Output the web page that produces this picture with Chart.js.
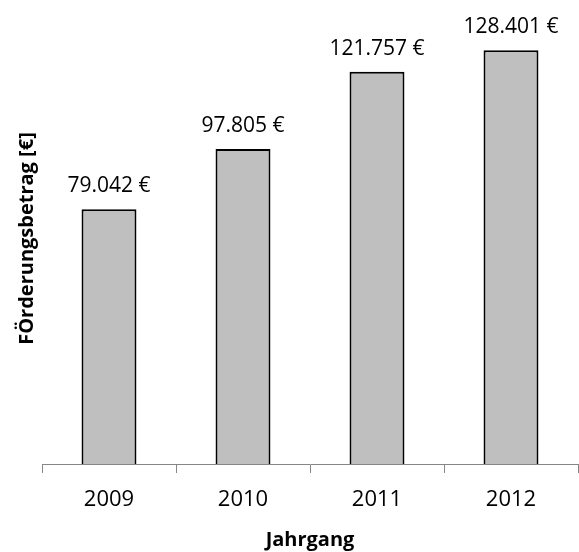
<!DOCTYPE html>
<html>
<head>
<meta charset="utf-8">
<script src="https://cdn.jsdelivr.net/npm/chart.js@4/dist/chart.umd.min.js"></script>
<style>
	html, body { margin: 0; padding: 0; background: #fff; }
	#wrap { width: 579px; height: 552px; }
</style>
</head>
<body>
<div id="wrap"><canvas id="foerder-bars"></canvas></div>
<script>
//
// Bars chart
//

var years = ['2009', '2010', '2011', '2012'];
var amounts = [79042, 97805, 121757, 128401];
var yMax = 140000;

var FoerderBars = (function() {

	//
	// Variables
	//

	var $chart = document.getElementById('foerder-bars');

	// Format like 79.042 €
	function euro(v) {
		return v.toString().replace(/\B(?=(\d{3})+(?!\d))/g, '.') + ' €';
	}

	// Labels above bars
	var valueLabels = {
		id: 'valueLabels',
		afterDatasetsDraw: function(chart) {
			var ctx = chart.ctx;
			var meta = chart.getDatasetMeta(0);
			ctx.save();
			ctx.font = '21px "Open Sans"';
			ctx.fillStyle = '#000';
			ctx.textAlign = 'center';
			ctx.textBaseline = 'alphabetic';
			meta.data.forEach(function(bar, i) {
				ctx.fillText(euro(amounts[i]), bar.x, bar.y - 17);
			});
			ctx.restore();
		}
	};


	//
	// Methods
	//

	// Init chart
	function initChart($chart) {

		// Create chart
		var barsChart = new Chart($chart, {
			type: 'bar',
			data: {
				labels: years,
				datasets: [{
					label: 'Förderungsbetrag',
					data: amounts,
					backgroundColor: '#BFBFBF',
					borderColor: '#000',
					borderWidth: 2,
					categoryPercentage: 1,
					barPercentage: 0.41
				}]
			},
			options: {
				responsive: true,
				maintainAspectRatio: false,
				animation: false,
				layout: { padding: { top: 13, right: 1, bottom: 0, left: 0 } },
				plugins: {
					legend: { display: false },
					tooltip: { enabled: false }
				},
				scales: {
					x: {
						grid: {
							display: true,
							drawOnChartArea: false,
							drawTicks: true,
							tickLength: 9,
							color: '#868686'
						},
						border: { display: true, color: '#868686', width: 1 },
						ticks: {
							color: '#000',
							padding: 14,
							font: { family: '"Open Sans"', size: 22 }
						},
						title: {
							display: true,
							text: 'Jahrgang',
							color: '#000',
							padding: { top: 0, bottom: 0 },
							font: { family: '"Open Sans"', size: 20, weight: 'bold' }
						},
						afterFit: function(scale) { scale.height = 88; }
					},
					y: {
						min: 0,
						max: yMax,
						grid: { display: false },
						border: { display: false },
						ticks: { display: false },
						title: {
							display: true,
							text: 'FÖrderungsbetrag [€]',
							color: '#000',
							padding: { top: 15, bottom: 0 },
							font: { family: '"Open Sans"', size: 20, weight: 'bold' }
						},
						afterFit: function(scale) { scale.width = 42; }
					}
				}
			},
			plugins: [valueLabels]
		});

		// Save on the element
		$chart.chart = barsChart;
	}


	// Init chart
	if ($chart) {
		initChart($chart);
	}

})();
</script>
</body>
</html>
